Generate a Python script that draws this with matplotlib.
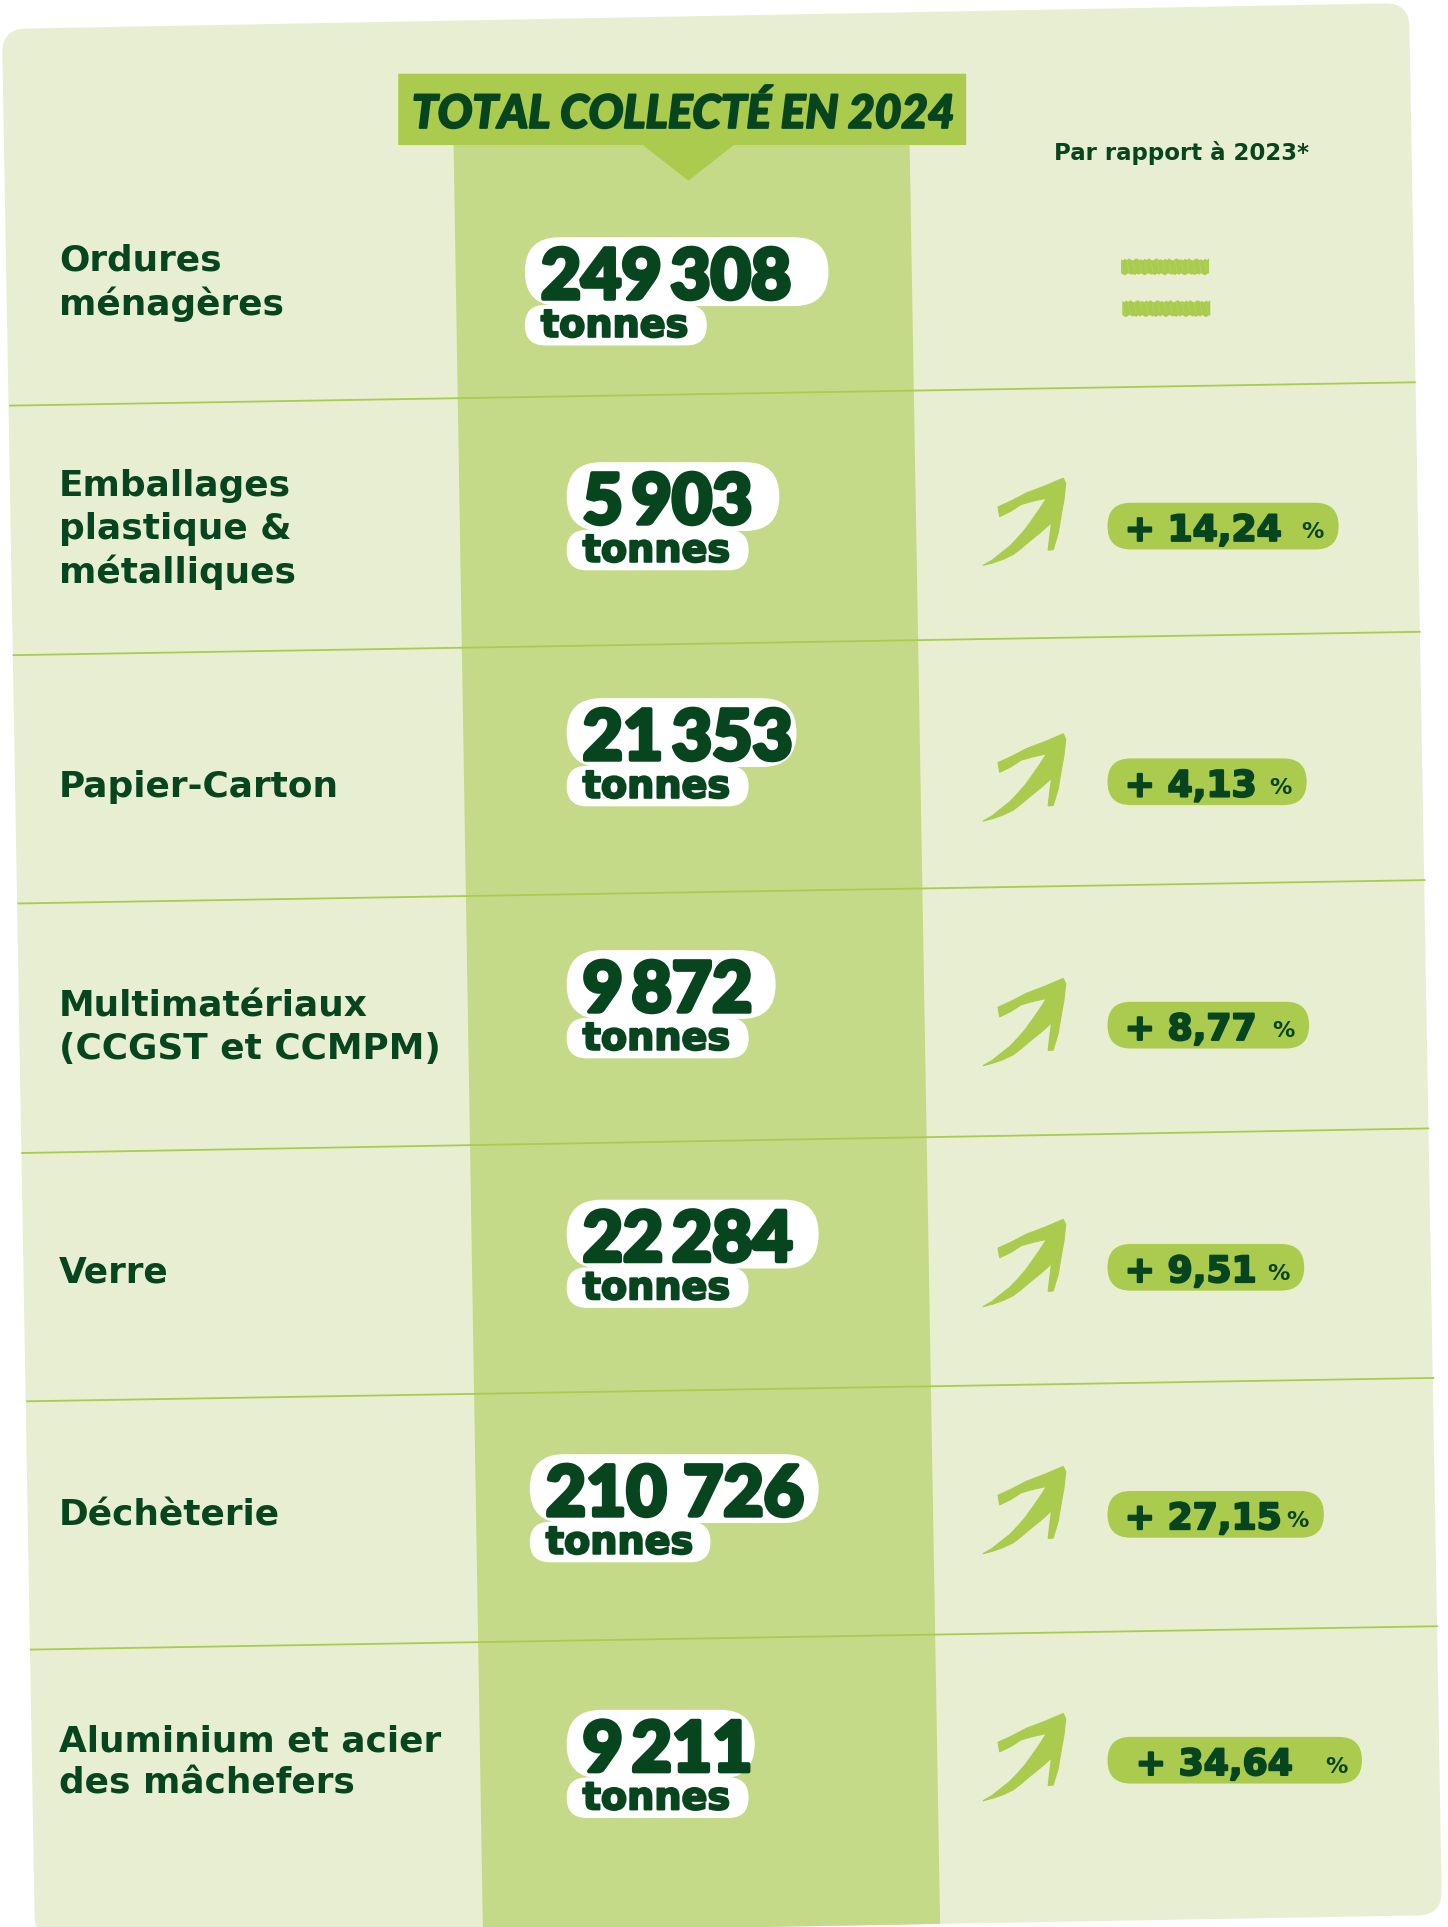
#!/usr/bin/env python3
"""Total collecté en 2024: tonnage table on a slightly tilted panel."""

import matplotlib
matplotlib.use("Agg")
import matplotlib.pyplot as plt
import matplotlib.patheffects as pe
from matplotlib.patches import FancyBboxPatch, PathPatch, Polygon
from matplotlib.path import Path

# data
title = "TOTAL COLLECTÉ EN 2024"
compare_label = "Par rapport à 2023*"
unit = "tonnes"
categories = ["Ordures\nménagères", "Emballages\nplastique &\nmétalliques", "Papier-Carton",
              "Multimatériaux\n(CCGST et CCMPM)", "Verre", "Déchèterie",
              "Aluminium et acier\ndes mâchefers"]
tonnages = ["249\u2009308", "5\u2009903", "21\u2009353", "9\u2009872", "22\u2009284", "210 726", "9\u2009211"]
changes = [None, "14,24", "4,13", "8,77", "9,51", "27,15", "34,64"]

# layout, in pixels of the 1178 wide preview
S = 1448 / 1178
label_y = [230, 431, 640, 836, 1035, 1233, 1434]
num_top = [193, 376, 568, 773, 976, 1183, 1391]
num_left = [427, 461, 461, 461, 461, 431, 461]
num_right = [674, 634, 648, 631, 666, 666, 614]
unit_right = [575, 609, 609, 609, 609, 578, 609]
change_top = [None, 409, 617, 815, 1012, 1213, 1413]
change_right = [None, 1089, 1063, 1065, 1061, 1077, 1108]
arrow_top = [None, 389, 597, 796, 992, 1193, 1394]
rules = [(8, 330, 1151, 311), (11, 533, 1155, 514), (15, 735, 1159, 716),
         (18, 938, 1162, 918), (22, 1140, 1166, 1121), (25, 1342, 1169, 1323)]

PANEL = "#e8eed1"
BAND = "#c5da88"
ACCENT = "#aacb4e"
DARK = "#07451f"

# hand drawn arrow outline, 0-1 in its box
ARROW = [(0.01, 1.00), (0.12, 0.94), (0.21, 0.87), (0.33, 0.78), (0.43, 0.68), (0.52, 0.58),
         (0.61, 0.46), (0.69, 0.35), (0.77, 0.23), (0.62, 0.26), (0.47, 0.30), (0.34, 0.38),
         (0.21, 0.44), (0.19, 0.33), (0.35, 0.26), (0.53, 0.17), (0.75, 0.09), (0.97, 0.00),
         (1.00, 0.06), (0.98, 0.24), (0.95, 0.40), (0.91, 0.63), (0.85, 0.82), (0.79, 0.825),
         (0.81, 0.66), (0.83, 0.51), (0.70, 0.62), (0.57, 0.72), (0.46, 0.81), (0.37, 0.875),
         (0.25, 0.93), (0.13, 0.97)]

# rough pencil edge of the equal sign, repeated along each bar
ROUGH = [0.0, 1.0, -0.6, 0.7, -1.0, 0.4, 1.2, -0.3, -0.8, 0.6]


def rounded_poly(pts, r):
    """Closed path through pts with the corners rounded by r."""
    verts, codes = [], []
    n = len(pts)
    for i in range(n):
        x0, y0 = pts[i - 1]
        x1, y1 = pts[i]
        x2, y2 = pts[(i + 1) % n]
        d0 = ((x1 - x0) ** 2 + (y1 - y0) ** 2) ** 0.5
        d2 = ((x2 - x1) ** 2 + (y2 - y1) ** 2) ** 0.5
        a = (x1 + (x0 - x1) * r / d0, y1 + (y0 - y1) * r / d0)
        b = (x1 + (x2 - x1) * r / d2, y1 + (y2 - y1) * r / d2)
        verts += [a, (x1, y1), b]
        codes += [Path.MOVETO if i == 0 else Path.LINETO, Path.CURVE3, Path.CURVE3]
    verts.append(verts[0])
    codes.append(Path.CLOSEPOLY)
    return Path(verts, codes)


def pill(ax, x0, y0, x1, y1, r, color, z=4):
    ax.add_patch(FancyBboxPatch((x0 * S, y0 * S), (x1 - x0) * S, (y1 - y0) * S,
                                boxstyle=f"round,pad=0,rounding_size={r * S}",
                                fc=color, ec="none", zorder=z))


def rough_bar(ax, x0, x1, y0, y1):
    """Equal sign bar with a scratchy top and bottom edge."""
    xs = [x0 * S + k * 2 for k in range(int((x1 - x0) * S / 2) + 1)]
    top = [(x, y0 * S + ROUGH[k % 10]) for k, x in enumerate(xs)]
    bottom = [(x, y1 * S + ROUGH[(k + 4) % 10]) for k, x in enumerate(xs)]
    ax.add_patch(Polygon(top + bottom[::-1], fc=ACCENT, ec="none", zorder=4))
    for k, x in enumerate(xs[::3]):
        ax.plot([x, x + 2], [y0 * S + 1 + k % 3, y1 * S - 1 - k % 4], color=BAND, lw=0.4, alpha=0.6, zorder=5)


def heavy(width):
    return [pe.withStroke(linewidth=width, foreground=DARK)]


def main():
    fig = plt.figure(figsize=(14.48, 19.27), dpi=100)
    ax = fig.add_axes([0, 0, 1, 1])
    ax.set_xlim(0, 1448)
    ax.set_ylim(1927, 0)
    ax.axis("off")

    panel = PathPatch(rounded_poly([(2, 29), (1409, 3), (1442, 1915), (35, 1940)], 24),
                      fc=PANEL, ec="none", zorder=1)
    ax.add_patch(panel)

    band = Polygon([(369 * S, 118 * S), (740 * S, 118 * S), (765 * S, 1575 * S), (393 * S, 1580 * S)],
                   fc=BAND, ec="none", zorder=2)
    ax.add_patch(band)
    band.set_clip_path(panel)

    for x0, y0, x1, y1 in rules:
        ax.plot([x0 * S, x1 * S], [y0 * S, y1 * S], color=ACCENT, lw=1.3, zorder=3)

    # header flag
    ax.add_patch(Polygon([(324 * S, 60 * S), (786 * S, 60 * S), (786 * S, 118 * S), (597 * S, 118 * S),
                          (560 * S, 147 * S), (523 * S, 118 * S), (324 * S, 118 * S)],
                         fc=ACCENT, ec="none", zorder=4))
    ax.text(556 * S, 104 * S, title, fontsize=33, family=["Lato", "DejaVu Sans"],
            weight="black", style="italic", color=DARK, ha="center", va="baseline", zorder=5,
            path_effects=heavy(1.5))
    ax.text(961 * S, 130 * S, compare_label, fontsize=16.5, weight="bold", color=DARK,
            ha="center", va="baseline", zorder=5)

    for i, cat in enumerate(categories):
        ax.text(48 * S, label_y[i] * S, cat, fontsize=25.8, weight="bold", color=DARK, ha="left",
                va="center", linespacing=1.31, zorder=5)

        # tonnage pills
        top = num_top[i]
        pill(ax, num_left[i], top, num_right[i], top + 56, 28, "white")
        pill(ax, num_left[i], top + 55, unit_right[i], top + 88, 16.5, "white")
        ax.text((num_left[i] + 13) * S, (top + 50) * S, tonnages[i], fontsize=50,
                family=["Lato", "DejaVu Sans"], weight="black", color=DARK, ha="left", va="baseline",
                zorder=5, path_effects=heavy(3))
        ax.text((num_left[i] + 13) * S, (top + 81) * S, unit, fontsize=27.5, weight="bold",
                color=DARK, ha="left", va="baseline", zorder=5, path_effects=heavy(1.5))

        # trend column
        if changes[i] is None:
            rough_bar(ax, 912, 985, 211, 223)
            rough_bar(ax, 913, 985, 245, 257)
            continue

        ax.add_patch(Polygon([((799 + u * 68) * S, (arrow_top[i] + v * 71) * S) for u, v in ARROW],
                             fc=ACCENT, ec=ACCENT, lw=0.8, zorder=4))
        ct = change_top[i]
        pill(ax, 901, ct, change_right[i], ct + 38, 19, ACCENT)
        offset = 23 if i == 6 else 14
        ax.text((901 + offset) * S, (ct + 31) * S, "+ " + changes[i], fontsize=26, weight="bold",
                color=DARK, ha="left", va="baseline", zorder=5, path_effects=heavy(1.5))
        ax.text((change_right[i] - 12) * S, (ct + 29) * S, "%", fontsize=16, weight="bold",
                color=DARK, ha="right", va="baseline", zorder=5)

    fig.savefig("out.png", dpi=100, facecolor="white")


if __name__ == "__main__":
    main()
